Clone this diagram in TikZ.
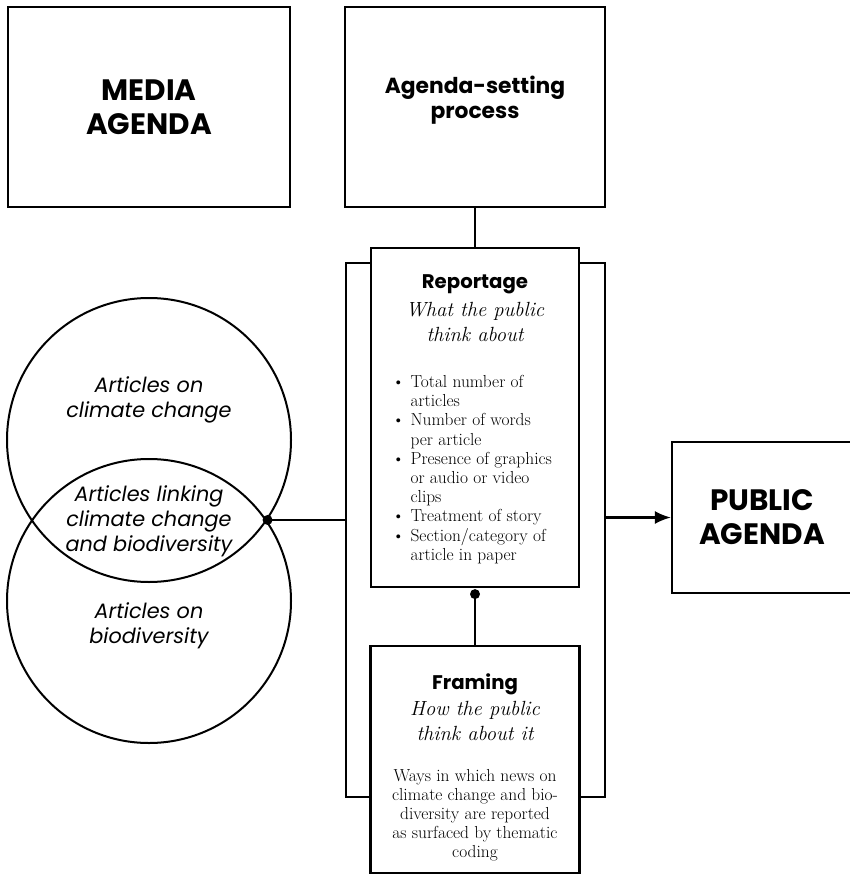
\documentclass[tikz,border=0pt]{standalone}
\usepackage{fontspec}
\usepackage{tikz}
\usetikzlibrary{arrows}
\usetikzlibrary{arrows.meta}
\usetikzlibrary{positioning}
\newfontfamily\gothic{Poppins}

\begin{document}
\begin{tikzpicture}[x=1pt, y=-1pt, line width=2.2pt, node distance=6pt]
        \tikzstyle{every node}=[inner sep=0pt]
        \tikzstyle{frame}=[draw, fill=white, rectangle]
        \tikzstyle{caps}=[font=\gothic\bfseries\fontsize{29.5}{34}\selectfont, align=center]
        \tikzstyle{heading}=[font=\gothic\bfseries\fontsize{19.7}{24}\selectfont, align=center]
        \tikzstyle{subhead}=[font=\itshape\fontsize{20.5}{25.5}\selectfont, align=center]
        \tikzstyle{body}=[font=\fontsize{17.4}{19.2}\selectfont, align=center]
        \tikzstyle{venn}=[font=\gothic\itshape\fontsize{20.8}{25}\selectfont, align=center]
        \useasboundingbox (0,0) rectangle (849,874);
        % frame that joins the two middle boxes
        \coordinate (bl) at (346,263) ;
        \coordinate (br) at (605,797) ;
        \draw (bl) rectangle (br) ;
        \node[frame, caps, minimum width=282pt, minimum height=200pt] (media) at (149,107) {MEDIA\\AGENDA} ;
        \node[frame, minimum width=260pt, minimum height=200pt] (aset) at (475,107) {} ;
        \node[heading, font=\gothic\bfseries\fontsize{21.8}{25}\selectfont, below=69pt of aset.north] (aset-t) {Agenda-setting\\process} ;
        \node[frame, minimum width=208pt, minimum height=339pt] (rep) at (475,417.5) {} ;
        \node[frame, minimum width=209pt, minimum height=227pt] (fram) at (475,759.5) {} ;
        \node[frame, caps, minimum width=180pt, minimum height=151pt] (public) at (762,517.5) {PUBLIC\\AGENDA} ;
        \draw (aset.south) -- (rep.north) ;
        % reportage
        \node[heading, below=26.5pt of rep.north] (rep-t) {Reportage} ;
        \node[subhead, below=6pt of rep-t] (rep-s) {What the public\\think about} ;
        \node[body, below=30pt of rep-s, xshift=-3pt] (rep-l) {\begin{tabular}{@{}l@{\hspace{6pt}}l@{}}
          \textbullet & Total number of\\
           & articles\\
          \textbullet & Number of words\\
           & per article\\
          \textbullet & Presence of graphics\\
           & or audio or video\\
           & clips\\
          \textbullet & Treatment of story\\
          \textbullet & Section/category of\\
           & article in paper
        \end{tabular}} ;
        % framing
        \node[heading, below=27.5pt of fram.north] (fram-t) {Framing} ;
        \node[subhead, below=4pt of fram-t] (fram-s) {How the public\\think about it} ;
        \node[body, below=26pt of fram-s] (fram-b) {Ways in which news on\\climate change and bio-\\diversity are reported\\as surfaced by thematic\\coding} ;
        \coordinate (joint) at ([yshift=-6pt]rep.south) ;
        \fill (joint) circle (5pt) ;
        \draw (joint) -- (fram.north) ;
        % the two sets of articles
        \node[draw, circle, line width=2pt, minimum size=284pt] (climate) at (149,440) {} ;
        \node[draw, circle, line width=2pt, minimum size=284pt] (biodiv) at (149,601) {} ;
        \node[venn] (climate-t) at (149,400) {Articles on\\climate change} ;
        \node[venn] (both-t) at (149,521) {Articles linking\\climate change\\and biodiversity} ;
        \node[venn] (biodiv-t) at (149,626) {Articles on\\biodiversity} ;
        \coordinate (link) at (climate.-34.5) ;
        \fill (link) circle (5pt) ;
        \draw (link) -- (link -| bl) ;
        \draw[-{Latex[length=16pt,width=13pt]}] (public.west -| br) -- (public.west) ;
      \end{tikzpicture}
\end{document}
